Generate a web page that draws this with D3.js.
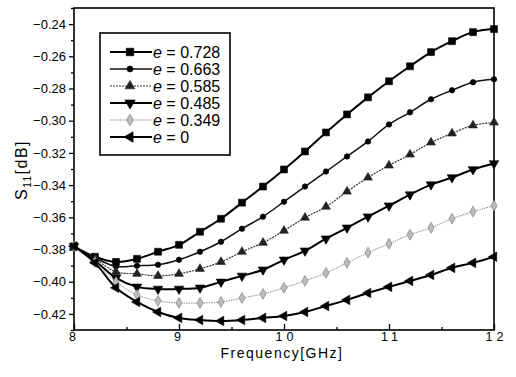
<!DOCTYPE html>
<html>
<head>
<meta charset="utf-8">
<script src="https://cdn.jsdelivr.net/npm/d3@7"></script>
<style>
  body { margin: 0; background: #fff; }
  text { font-family: "Liberation Sans", Arial, sans-serif; fill: #000; }
</style>
</head>
<body>
<div id="chart"></div>
<script>
// Define SVG area dimensions
var svgWidth = 516;
var svgHeight = 377;

// plot frame in pixels
var chartMargin = { top: 8, right: 22, bottom: 47, left: 74 };
var chartWidth = svgWidth - chartMargin.left - chartMargin.right;
var chartHeight = svgHeight - chartMargin.top - chartMargin.bottom;

// data
var freq = [8.0, 8.2, 8.4, 8.6, 8.8, 9.0, 9.2, 9.4, 9.6, 9.8, 10.0,
    10.2, 10.4, 10.6, 10.8, 11.0, 11.2, 11.4, 11.6, 11.8, 12.0];

var e0728 = [-0.378, -0.3845, -0.3877, -0.3858, -0.3814, -0.3771, -0.369, -0.3609, -0.3509, -0.3409, -0.3303,
    -0.3191, -0.3073, -0.2961, -0.2855, -0.2755, -0.2662, -0.2574, -0.2506, -0.245, -0.2431];
var e0663 = [-0.378, -0.3852, -0.3905, -0.3901, -0.3895, -0.3864, -0.3814, -0.3752, -0.3671, -0.3596, -0.3503,
    -0.3409, -0.3316, -0.3222, -0.3129, -0.3023, -0.2948, -0.2867, -0.2811, -0.2761, -0.2743];
var e0585 = [-0.378, -0.3858, -0.3939, -0.3951, -0.3964, -0.3951, -0.392, -0.3877, -0.3814, -0.3758, -0.3683,
    -0.3602, -0.3534, -0.344, -0.3353, -0.3278, -0.321, -0.3135, -0.3079, -0.3029, -0.3011];
var e0485 = [-0.378, -0.387, -0.3976, -0.4032, -0.4045, -0.4045, -0.4038, -0.4001, -0.3964, -0.3926, -0.3864,
    -0.3808, -0.3733, -0.3665, -0.3596, -0.3528, -0.3459, -0.3397, -0.3353, -0.3303, -0.3266];
var e0349 = [-0.378, -0.3877, -0.4001, -0.4082, -0.4119, -0.4132, -0.4132, -0.4126, -0.4101, -0.4076, -0.4038,
    -0.3995, -0.3945, -0.3883, -0.382, -0.3764, -0.3708, -0.3665, -0.3609, -0.3565, -0.3528];
var e0 = [-0.378, -0.3883, -0.4038, -0.4126, -0.4188, -0.4225, -0.4238, -0.4244, -0.4238, -0.4225, -0.4213,
    -0.4188, -0.4151, -0.4113, -0.407, -0.4032, -0.3995, -0.3958, -0.3914, -0.3883, -0.3845];

var seriesNames = ["0.728", "0.663", "0.585", "0.485", "0.349", "0"];
var seriesValues = [e0728, e0663, e0585, e0485, e0349, e0];

var xTicks = [8, 9, 10, 11, 12];
var yTicks = [-0.42, -0.40, -0.38, -0.36, -0.34, -0.32, -0.30, -0.28, -0.26, -0.24];

// look of each curve
var styles = [
    { stroke: "#000", width: 2, dash: null, symbol: d3.symbolSquare, size: 48, rot: 0, fill: "#000", mstroke: "#000" },
    { stroke: "#111", width: 1.5, dash: null, symbol: d3.symbolCircle, size: 24, rot: 0, fill: "#000", mstroke: "#000" },
    { stroke: "#333", width: 1.2, dash: "2,1", symbol: d3.symbolTriangle, size: 34, rot: 0, fill: "#222", mstroke: "#222" },
    { stroke: "#000", width: 2, dash: null, symbol: d3.symbolTriangle, size: 40, rot: 180, fill: "#000", mstroke: "#000" },
    { stroke: "#888", width: 1, dash: "1.5,1", symbol: d3.symbolDiamond, size: 34, rot: 0, fill: "#bbb", mstroke: "#777" },
    { stroke: "#000", width: 2, dash: null, symbol: d3.symbolTriangle, size: 40, rot: -90, fill: "#000", mstroke: "#000" }
];

var svg = d3.select("#chart")
    .append("svg")
    .attr("width", svgWidth)
    .attr("height", svgHeight);

var chartGroup = svg.append("g")
    .attr("transform", `translate(${chartMargin.left}, ${chartMargin.top})`);

// scales
var xScale = d3.scaleLinear()
    .domain([8, 12])
    .range([0, chartWidth]);

var yScale = d3.scaleLinear()
    .domain([-0.43, -0.23])
    .range([chartHeight, 0]);

// bottom axis, ticks point inward
var bottomAxis = d3.axisBottom(xScale)
    .tickValues(xTicks)
    .tickSize(-6)
    .tickPadding(2)
    .tickFormat(d3.format("d"));

var xAxis = chartGroup.append("g")
    .attr("transform", `translate(0, ${chartHeight})`)
    .call(bottomAxis);

xAxis.selectAll("text")
    .attr("font-size", 12.5)
    .attr("letter-spacing", 4)
    .attr("dx", function(d) { return d >= 10 ? 2 : 0; });

// minor x ticks
chartGroup.append("g")
    .attr("transform", `translate(0, ${chartHeight})`)
    .call(d3.axisBottom(xScale).tickValues([8.5, 9.5, 10.5, 11.5]).tickSize(-3).tickFormat(""));

// left axis, ticks point outward
var leftAxis = d3.axisLeft(yScale)
    .tickValues(yTicks)
    .tickSize(5)
    .tickPadding(3)
    .tickFormat(d3.format(".2f"));

var yAxis = chartGroup.append("g")
    .call(leftAxis);

yAxis.selectAll("text").attr("font-size", 13);

// minor y ticks
chartGroup.append("g")
    .call(d3.axisLeft(yScale)
        .tickValues(d3.range(-0.43, -0.225, 0.02))
        .tickSize(3)
        .tickFormat(""));

chartGroup.selectAll(".domain").remove();
chartGroup.selectAll(".tick line").attr("stroke", "#000").attr("stroke-width", 1.3);

// frame
chartGroup.append("rect")
    .attr("width", chartWidth)
    .attr("height", chartHeight)
    .attr("fill", "none")
    .attr("stroke", "#000")
    .attr("stroke-width", 1.6);

// curves
var line = d3.line()
    .x((d, i) => xScale(freq[i]))
    .y(d => yScale(d))
    .curve(d3.curveCatmullRom);

seriesValues.forEach(function(values, k) {
    var s = styles[k];
    chartGroup.append("path")
        .datum(values)
        .attr("d", line)
        .attr("fill", "none")
        .attr("stroke", s.stroke)
        .attr("stroke-width", s.width)
        .attr("stroke-dasharray", s.dash);

    chartGroup.selectAll(".m" + k)
        .data(values)
        .enter()
        .append("path")
        .attr("d", d3.symbol().type(s.symbol).size(s.size))
        .attr("transform", (d, i) => `translate(${xScale(freq[i])}, ${yScale(d)}) rotate(${s.rot})`)
        .attr("fill", s.fill)
        .attr("stroke", s.mstroke)
        .attr("stroke-width", 0.6);
});

// legend
var legend = svg.append("g")
    .attr("transform", "translate(100, 33)");

legend.append("rect")
    .attr("width", 130)
    .attr("height", 122)
    .attr("fill", "#fff")
    .attr("stroke", "#000")
    .attr("stroke-width", 1.6);

seriesNames.forEach(function(name, k) {
    var s = styles[k];
    var row = legend.append("g")
        .attr("transform", `translate(0, ${19 + k * 17})`);
    row.append("line")
        .attr("x1", 10)
        .attr("x2", 52)
        .attr("stroke", s.stroke)
        .attr("stroke-width", s.width)
        .attr("stroke-dasharray", s.dash);
    row.append("path")
        .attr("d", d3.symbol().type(s.symbol).size(s.size * 1.2))
        .attr("transform", `translate(30, 0) rotate(${s.rot})`)
        .attr("fill", s.fill)
        .attr("stroke", s.mstroke)
        .attr("stroke-width", 0.6);
    var t = row.append("text")
        .attr("x", 53)
        .attr("y", 6)
        .attr("font-size", 16);
    t.append("tspan").attr("font-style", "italic").text("e");
    t.append("tspan").text(" = " + name);
});

// axis titles
svg.append("text")
    .attr("x", chartMargin.left + chartWidth / 2 - 2)
    .attr("y", 358)
    .attr("text-anchor", "middle")
    .attr("font-size", 14)
    .attr("letter-spacing", 1.5)
    .text("Frequency[GHz]");

var yTitle = svg.append("text")
    .attr("transform", "translate(27, 170) rotate(-90)")
    .attr("text-anchor", "middle")
    .attr("font-size", 16)
    .attr("letter-spacing", 1.5);
yTitle.append("tspan").text("S");
yTitle.append("tspan").attr("font-size", 10).attr("dy", 4).text("11");
yTitle.append("tspan").attr("dy", -4).text("[dB]");
</script>
</body>
</html>
